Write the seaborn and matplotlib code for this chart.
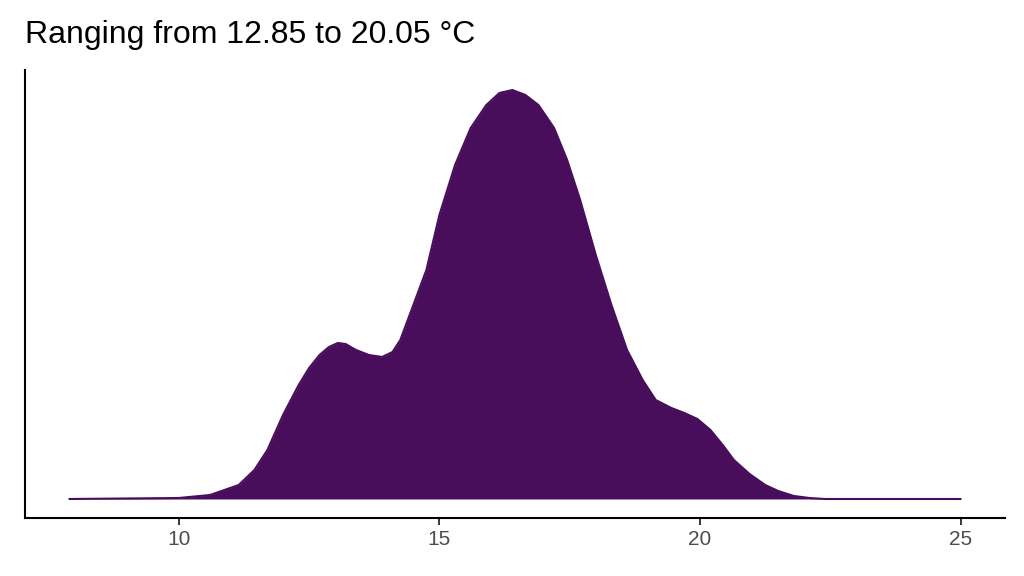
import matplotlib
matplotlib.use("Agg")
import matplotlib.pyplot as plt
import seaborn as sns
import pandas as pd

# density curve (temperature in degC, relative density)
temp = [7.9, 10.0, 10.6, 11.15, 11.45, 11.7, 12.0, 12.3, 12.5, 12.7, 12.88, 13.05, 13.2,
        13.4, 13.65, 13.9, 14.1, 14.25, 14.5, 14.75, 15.0, 15.3, 15.6, 15.9, 16.15,
        16.4, 16.65, 16.9, 17.2, 17.45, 17.7, 18.0, 18.3, 18.6, 18.9, 19.15, 19.45,
        19.7, 19.95, 20.2, 20.45, 20.65, 20.95, 21.25, 21.5, 21.8, 22.1, 22.4, 25.0]
density = [0, 1, 4, 14, 29, 49, 84, 114, 131, 144, 152, 156, 155,
           149, 144, 142, 147, 159, 194, 229, 284, 334, 371, 394, 406,
           409, 404, 394, 371, 339, 299, 244, 194, 149, 119, 99, 91,
           86, 80, 69, 53, 39, 25, 14, 8, 3, 1, 0, 0]
density = [d / 409 * 0.17 for d in density]
df = pd.DataFrame({"temp": temp, "density": density})

sns.set_theme(style="ticks")
plt.rcParams['font.family'] = ['Liberation Sans', 'DejaVu Sans']

fig = plt.figure(figsize=(10.24, 5.76), dpi=100)
ax = fig.add_axes([25 / 1024, 1 - 518 / 576, 980 / 1024, 448 / 576])
col = "#480E5C"
ax.fill_between(df["temp"], df["density"], color=col, lw=0)
sns.lineplot(data=df, x="temp", y="density", color=col, lw=1.5, ax=ax)

ax.set_xlim(7.05, 25.85)
ax.set_ylim(-0.17 * 19 / 409, 0.17 * (429 + 19) / 409 - 0.17 * 19 / 409)
ax.set_xticks([10, 15, 20, 25])
ax.set_yticks([])
ax.set_xlabel("")
ax.set_ylabel("")
ax.tick_params(axis="x", labelsize=15, labelcolor="#4D4D4D", length=5, width=1.3)
for s in ["top", "right"]:
    ax.spines[s].set_visible(False)
for s in ["left", "bottom"]:
    ax.spines[s].set_linewidth(1.5)
    ax.spines[s].set_color("black")

fig.text(25 / 1024, 1 - 35 / 576, "Ranging from 12.85 to 20.05 °C", fontsize=23,
         va="center", ha="left", color="black")
fig.savefig("out.png", dpi=100)
